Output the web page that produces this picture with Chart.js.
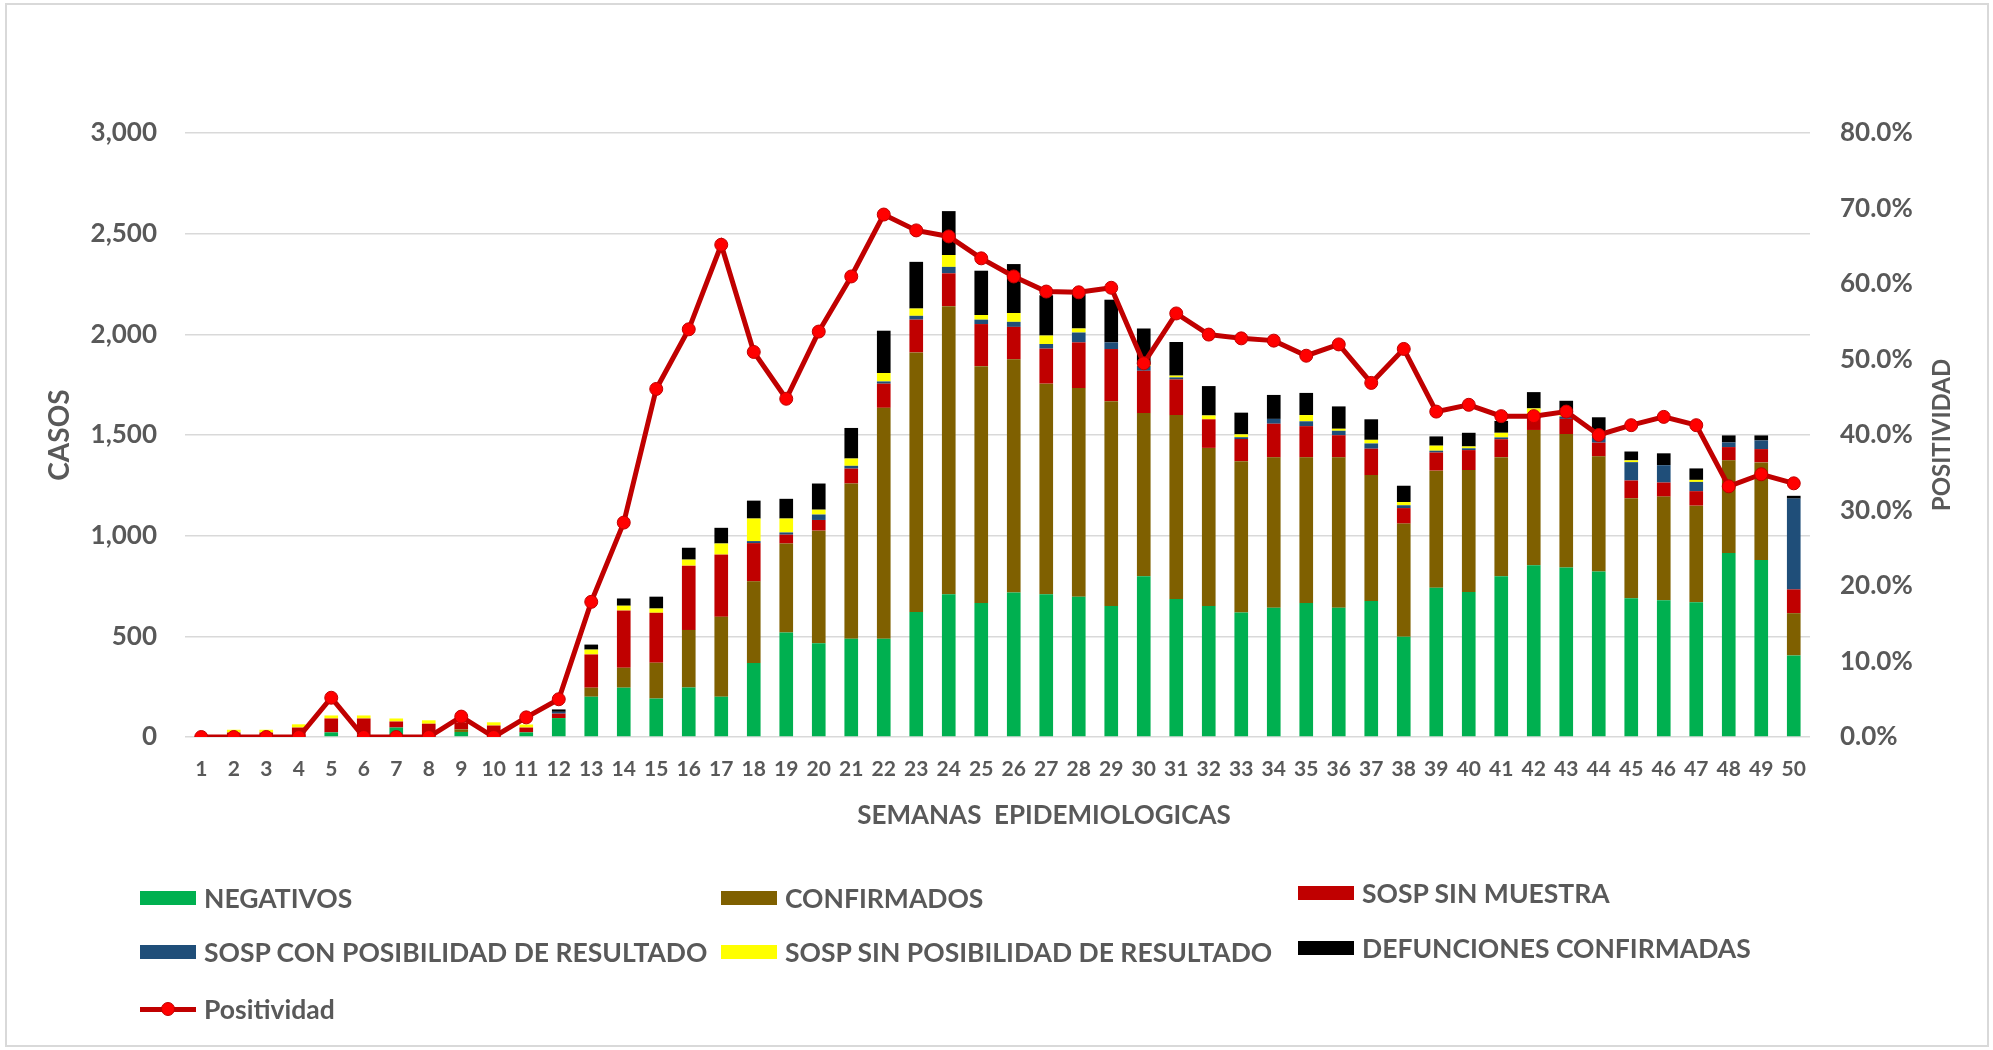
<!DOCTYPE html>
<html><head><meta charset="utf-8">
<script src="https://cdn.jsdelivr.net/npm/chart.js@4.4.1/dist/chart.umd.min.js"></script>
<style>
html,body{margin:0;padding:0;background:#fff;}
#wrap{position:relative;width:1993px;height:1050px;overflow:hidden;font-family:Lato,sans-serif;}
#frame{position:absolute;left:5px;top:3px;width:1984px;height:1044px;border:2px solid #d9d9d9;box-sizing:border-box;pointer-events:none;}
canvas{position:absolute;left:0;top:0;}
.lg{position:absolute;display:flex;align-items:center;font:700 26.5px Lato,sans-serif;color:#595959;white-space:nowrap;transform:translateY(-50%);}
.sw{width:56px;height:14px;margin-right:8px;flex:none;}
.mk{position:relative;width:56px;height:14px;margin-right:8px;flex:none;}
.mk .ln{position:absolute;left:0;top:5px;width:56px;height:5px;background:#c00000;}
.mk .dt{position:absolute;left:21px;top:0;width:12px;height:12px;border-radius:50%;background:#ff0000;border:1px solid #c00000;}
</style></head>
<body><div id="wrap"><canvas id="c" width="1993" height="1050"></canvas><div id="frame"></div><div id="legend"></div></div>
<script>
const weeks = ["1","2","3","4","5","6","7","8","9","10","11","12","13","14","15","16","17","18","19","20","21","22","23","24","25","26","27","28","29","30","31","32","33","34","35","36","37","38","39","40","41","42","43","44","45","46","47","48","49","50"];
const negativos = [0,0,0,0,23,12,47,0,25,0,23,94,200,245,191,246,200,367,519,466,488,488,621,709,665,718,709,697,651,799,685,651,618,642,665,642,675,498,741,720,798,853,842,822,689,679,669,914,879,405];
const confirmados = [0,0,0,0,0,0,0,0,13,0,0,0,45,99,178,286,397,406,442,559,771,1147,1289,1431,1177,1158,1046,1036,1017,810,914,785,752,747,724,747,626,562,582,606,592,672,663,572,497,515,480,460,485,210];
const sospSinMuestra = [0,22,22,47,69,80,30,66,35,57,24,22,165,284,248,319,309,190,44,53,74,120,163,163,209,161,174,227,259,210,177,142,110,167,155,110,131,77,90,99,89,65,75,68,88,70,72,66,66,118];
const sospConPosibilidad = [0,0,0,0,0,0,0,0,0,0,0,9,0,0,0,0,0,10,11,27,14,11,19,32,22,25,23,49,33,24,10,0,9,24,24,22,26,14,9,9,9,10,12,30,91,86,46,23,43,451];
const sospSinPosibilidad = [0,14,14,16,15,15,15,17,0,16,15,0,24,24,21,30,55,112,69,24,36,42,36,59,23,44,42,20,0,6,9,19,14,0,31,10,18,16,25,9,23,32,14,10,9,0,10,0,0,0];
const defunciones = [0,0,0,0,0,0,0,0,0,0,0,12,25,36,59,59,78,89,98,130,152,210,232,218,220,243,200,170,212,180,167,146,108,119,110,111,102,81,46,68,59,81,64,86,44,59,57,35,25,14];
const positividad = [0,0,0,0,5.2,0,0,0,2.7,0,2.6,5.0,17.9,28.4,46.1,54.0,65.2,51.0,44.8,53.7,61.0,69.2,67.1,66.3,63.4,61.0,59.0,58.9,59.5,49.5,56.1,53.3,52.8,52.5,50.5,52.0,46.9,51.4,43.1,44.0,42.5,42.5,43.1,40.0,41.3,42.4,41.3,33.2,34.8,33.6];

const seriesNames = ["NEGATIVOS","CONFIRMADOS","SOSP SIN MUESTRA","SOSP CON POSIBILIDAD DE RESULTADO","SOSP SIN POSIBILIDAD DE RESULTADO","DEFUNCIONES CONFIRMADAS","Positividad"];
const seriesColors = ["#00b050","#7f6000","#c00000","#1f4e79","#ffff00","#000000","#c00000"];
const axisTitles = {left:"CASOS", right:"POSITIVIDAD", bottom:"SEMANAS  EPIDEMIOLOGICAS"};
const leftTicks = {min:0, max:3000, step:500};
const rightTicks = {min:0, max:80, step:10};

const grey = '#595959';
const barSeries = [negativos, confirmados, sospSinMuestra, sospConPosibilidad, sospSinPosibilidad, defunciones];
const datasets = barSeries.map((d,i)=>({
  type:'bar', label:seriesNames[i], data:d, backgroundColor:seriesColors[i], borderWidth:0,
  stack:'s', yAxisID:'y', order:1, categoryPercentage:1.0, barPercentage:0.42
}));
datasets.push({
  type:'line', label:seriesNames[6], data:positividad, yAxisID:'y1', order:0,
  borderColor:'#c00000', borderWidth:5, tension:0,
  pointRadius:6.5, pointBackgroundColor:'#ff0000', pointBorderColor:'#c00000', pointBorderWidth:1
});

const extraTitles = {
  id:'extraTitles',
  afterDraw(chart){
    const ctx = chart.ctx, a = chart.chartArea;
    ctx.save();
    ctx.fillStyle = grey;
    ctx.textAlign = 'center';
    ctx.textBaseline = 'middle';
    ctx.font = '700 26px Lato, sans-serif';
    ctx.fillText(axisTitles.bottom, 1044, 816);
    ctx.translate(1942, (a.top+a.bottom)/2);
    ctx.rotate(-Math.PI/2);
    ctx.font = '700 24px Lato, sans-serif';
    ctx.fillText(axisTitles.right, 0, 0);
    ctx.restore();
  }
};

const chart = new Chart(document.getElementById('c'), {
  type:'bar',
  data:{labels:weeks, datasets},
  plugins:[extraTitles],
  options:{
    responsive:false, animation:false, devicePixelRatio:1,
    layout:{padding:{top:133, left:0, right:0, bottom:0}},
    plugins:{legend:{display:false}, tooltip:{enabled:false}},
    scales:{
      x:{
        stacked:true,
        grid:{display:false, drawTicks:false},
        border:{display:false},
        ticks:{autoSkip:false, maxRotation:0, minRotation:0, padding:20, color:grey, font:{family:'Lato', weight:'bold', size:21}},
        afterFit:(s)=>{ s.height = 313; }
      },
      y:{
        stacked:true, position:'left', min:leftTicks.min, max:leftTicks.max,
        grid:{color:'#d9d9d9', lineWidth:1.5, drawTicks:false},
        border:{display:false},
        ticks:{stepSize:leftTicks.step, padding:28, color:grey, font:{family:'Lato', weight:'bold', size:26},
          callback:(v)=>Number(v).toLocaleString('en-US')},
        title:{display:true, text:axisTitles.left, color:grey, font:{family:'Lato', weight:'bold', size:28}, padding:{top:43,bottom:0}},
        afterFit:(s)=>{ s.width = 185; }
      },
      y1:{
        position:'right', min:rightTicks.min, max:rightTicks.max,
        grid:{display:false, drawTicks:false},
        border:{display:false},
        ticks:{stepSize:rightTicks.step, padding:30, color:grey, font:{family:'Lato', weight:'bold', size:26},
          callback:(v)=>Number(v).toFixed(1)+'%'},
        afterFit:(s)=>{ s.width = 183; }
      }
    }
  }
});

// HTML legend built from the chart datasets
const legendPos = [[140,898],[721,898],[1298,893],[140,952],[721,952],[1298,948],[140,1009]];
const lg = document.getElementById('legend');
chart.data.datasets.forEach((ds,i)=>{
  const item = document.createElement('div');
  item.className = 'lg';
  item.style.left = legendPos[i][0]+'px';
  item.style.top = legendPos[i][1]+'px';
  if (ds.type === 'line') {
    const m = document.createElement('div'); m.className='mk';
    m.innerHTML = '<div class="ln"></div><div class="dt"></div>';
    item.appendChild(m);
  } else {
    const s = document.createElement('div'); s.className='sw';
    s.style.background = ds.backgroundColor;
    item.appendChild(s);
  }
  const t = document.createElement('span'); t.textContent = ds.label;
  item.appendChild(t);
  lg.appendChild(item);
});
</script>
</body></html>
